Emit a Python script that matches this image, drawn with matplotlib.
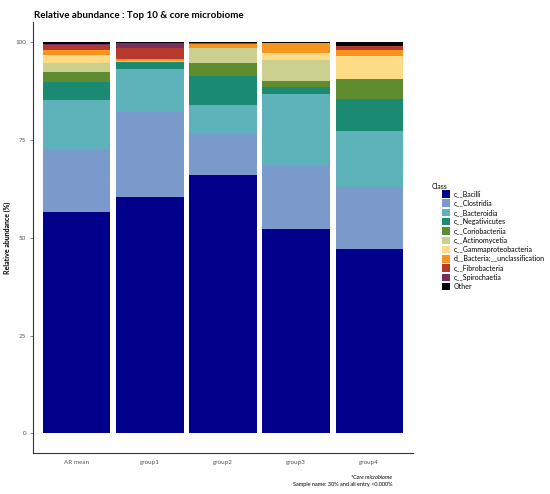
import numpy as np
import matplotlib
matplotlib.use("Agg")
import matplotlib.pyplot as plt
from matplotlib.patches import Patch

plt.rcParams['font.family'] = ['Lato', 'DejaVu Sans']

groups = ['AR mean', 'group1', 'group2', 'group3', 'group4']
classes = ['c__Bacilli', 'c__Clostridia', 'c__Bacteroidia', 'c__Negativicutes',
           'c__Coriobacteriia', 'c__Actinomycetia', 'c__Gammaproteobacteria',
           'd__Bacteria;__unclassification', 'c__Fibrobacteria', 'c__Spirochaetia',
           'Other']
colors = ['#00008B', '#7B9ACC', '#5DB3B9', '#1B8A73', '#5E8C2F', '#CCD08E',
          '#FDDC87', '#F7941D', '#B5392D', '#7A2E5C', '#000000']

# percent per class, one list per class (order: AR mean, group1..4)
bacilli = [56.5, 60.4, 66.1, 52.3, 47.0]
clostridia = [16.1, 21.6, 10.6, 16.3, 15.9]
bacteroidia = [12.6, 11.1, 7.2, 18.1, 14.3]
negativicutes = [4.6, 1.7, 7.4, 1.7, 8.1]
coriobacteriia = [2.6, 0.1, 3.2, 1.6, 5.1]
actinomycetia = [2.2, 0.1, 3.8, 5.3, 0.0]
gammaproteo = [2.1, 0.1, 0.1, 1.9, 5.9]
bact_unclass = [1.3, 0.6, 1.1, 2.6, 1.6]
fibrobacteria = [1.1, 2.8, 0.2, 0.0, 1.1]
spirochaetia = [0.4, 1.2, 0.1, 0.0, 0.0]
other = [0.5, 0.3, 0.2, 0.2, 1.0]

values = [bacilli, clostridia, bacteroidia, negativicutes, coriobacteriia,
          actinomycetia, gammaproteo, bact_unclass, fibrobacteria, spirochaetia, other]

fig = plt.figure(figsize=(5.5, 4.94), dpi=100)
ax = fig.add_axes([0.06, 0.083, 0.691, 0.872])

x = np.arange(len(groups))
bottom = np.zeros(len(groups))
for vals, col, name in zip(values, colors, classes):
    ax.bar(x, vals, width=0.92, bottom=bottom, color=col, linewidth=0, label=name)
    bottom += np.array(vals)

ax.set_xlim(-0.6, 4.6)
ax.set_ylim(-5, 105)
ax.set_xticks(x)
ax.set_xticklabels(groups, fontsize=4.5, color='#555555')
ax.set_yticks([0, 25, 50, 75, 100])
ax.set_yticklabels(['0', '25', '50', '75', '100'], fontsize=4.5, color='#555555')
ax.tick_params(axis='x', length=0, pad=5)
ax.tick_params(axis='y', length=2, width=0.5, color='#555555', pad=3)
for s in ['top', 'right']:
    ax.spines[s].set_visible(False)
for s in ['left', 'bottom']:
    ax.spines[s].set_linewidth(0.8)
    ax.spines[s].set_color('#333333')

ax.set_ylabel('Relative abundance (%)', fontsize=5, fontweight='bold', labelpad=3)
fig.text(0.062, 0.968, 'Relative abundance : Top 10 & core microbiome',
         fontsize=7, fontweight='bold', ha='left', va='center')

# legend: title drawn separately so the keys sit indented like the original
fig.text(0.784, 0.623, 'Class', fontsize=5, ha='left', va='center')
handles = [Patch(facecolor=c, edgecolor='none', label=n) for c, n in zip(colors, classes)]
fig.legend(handles=handles, loc='upper left', bbox_to_anchor=(0.803, 0.615),
           frameon=False, fontsize=5, handlelength=1.25, handleheight=1.25,
           handletextpad=0.45, labelspacing=0.28, borderaxespad=0, borderpad=0)

fig.text(0.713, 0.033, '*Core microbiome', fontsize=4, ha='right', va='center', style='italic')
fig.text(0.713, 0.020, 'Sample name: 30% and all entry <0.000%', fontsize=4, ha='right', va='center')

fig.savefig('out.png', dpi=100)
